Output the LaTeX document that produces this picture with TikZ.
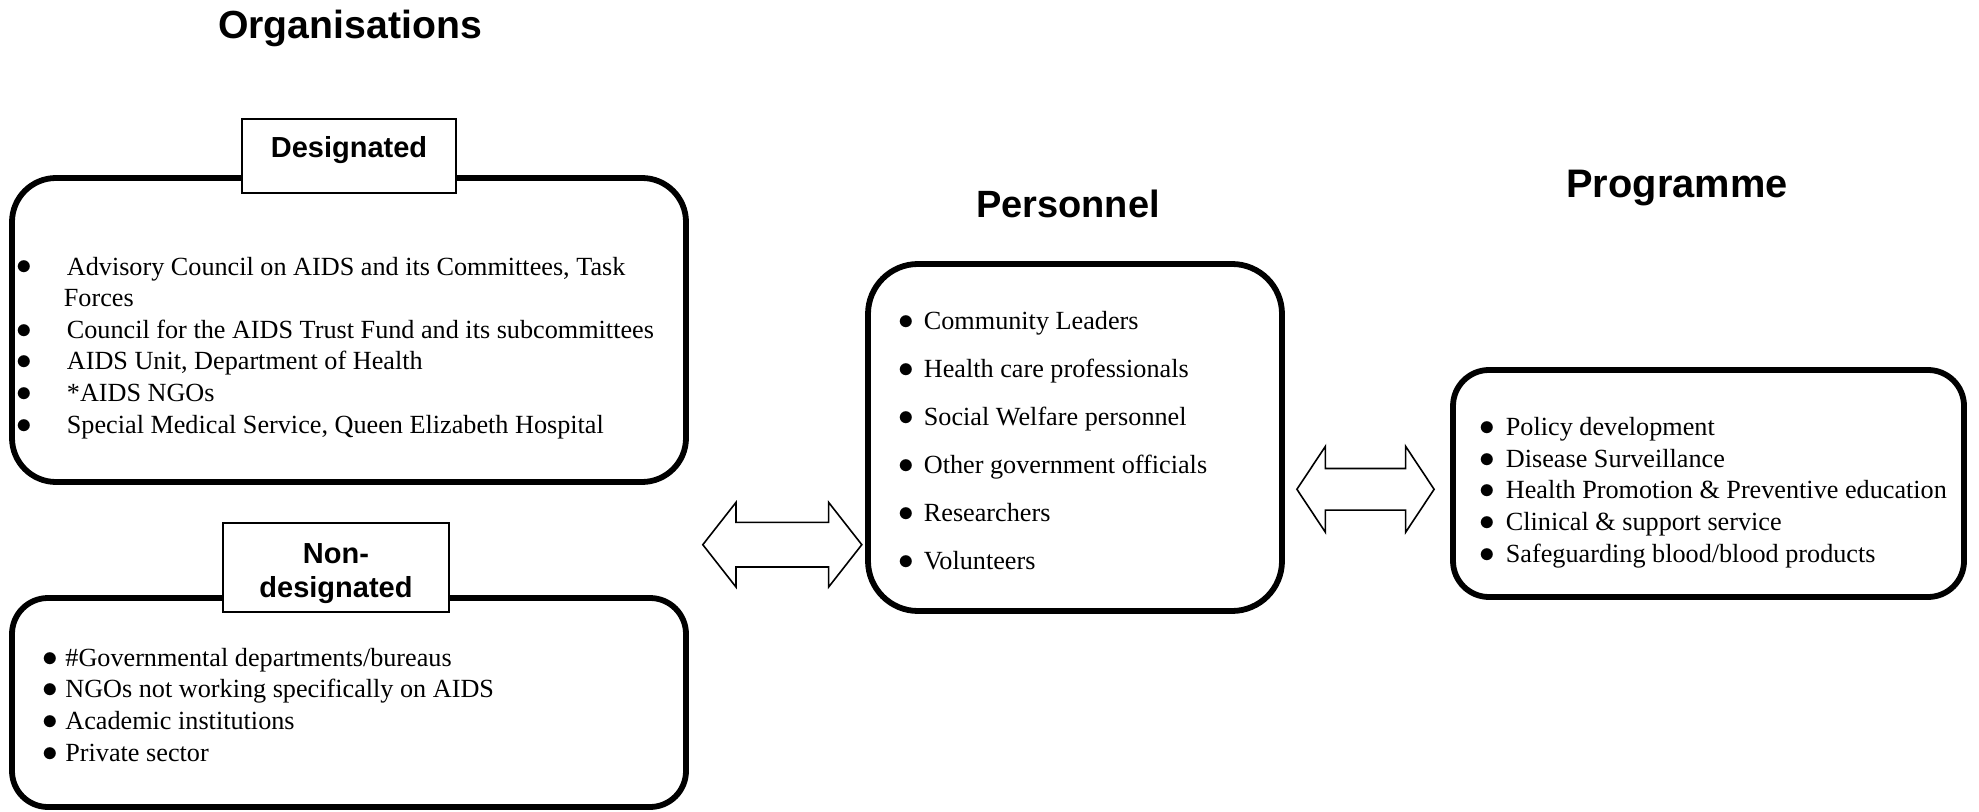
\documentclass[tikz,border=0pt]{standalone}
\usepackage{fontspec}
\usepackage{graphicx}
\setmainfont{Liberation Serif}
\newfontfamily\headfont{Liberation Sans}
\usetikzlibrary{shapes.arrows}

\newcommand{\bul}{\scalebox{1.3}{$\bullet$}}
\newcommand{\itm}[2]{\makebox[#1][l]{\bul}#2}

\tikzset{
  frame/.style={draw, line width=2.9pt, inner sep=0pt},
  tag/.style={draw, line width=0.8pt, fill=white, inner sep=0pt, align=center,
    font=\headfont\bfseries\fontsize{14.5}{17}\selectfont},
  heading/.style={anchor=base, inner sep=0pt,
    font=\headfont\bfseries\fontsize{19}{22}\selectfont},
  items/.style={anchor=base west, inner sep=0pt, align=left,
    font=\fontsize{13.1}{15.8}\selectfont},
  twoway/.style={double arrow, draw, line width=0.8pt, fill=white, inner xsep=0pt}
}

\begin{document}
\begin{tikzpicture}[x=0.5pt,y=-0.5pt]
\useasboundingbox (0,0) rectangle (1979,812);

% headings
\node[heading, font=\headfont\bfseries\fontsize{19.6}{22}\selectfont] (orgtitle) at (350,39) {Organisations};
\node[heading] (perstitle) at (1068,218) {Personnel};
\node[heading, font=\headfont\bfseries\fontsize{19.9}{22}\selectfont] (progtitle) at (1677,197.5) {Programme};

% frames
\node[frame, rounded corners=22pt, minimum width=337pt, minimum height=152pt] (desigbox) at (349,330) {};
\node[frame, rounded corners=18pt, minimum width=337pt, minimum height=104.5pt] (nondesbox) at (349,702.5) {};
\node[frame, rounded corners=25pt, minimum width=207pt, minimum height=173.5pt] (persbox) at (1075,437.5) {};
\node[frame, rounded corners=18pt, minimum width=255.5pt, minimum height=113.5pt] (progbox) at (1708.5,483.5) {};

% tags sitting on the frames
\node[tag, minimum width=107pt, text height=19.5pt, text depth=17.5pt] (desigtag) at (349,156) {Designated};
\node[tag, minimum width=113pt, text height=37pt, text depth=7.5pt] (nondestag) at (336,567.5) {Non-\\designated};

% lists
\node[items] (desiglist) at (16.5,433) {\itm{25pt}{Advisory Council on AIDS and its Committees, Task}\\
  \hspace*{23.5pt}Forces\\
  \itm{25pt}{Council for the AIDS Trust Fund and its subcommittees}\\
  \itm{25pt}{AIDS Unit, Department of Health}\\
  \itm{25pt}{*AIDS NGOs}\\
  \itm{25pt}{Special Medical Service, Queen Elizabeth Hospital}};
\node[items] (nondeslist) at (42.5,761) {\itm{11.25pt}{\#Governmental departments/bureaus}\\
  \itm{11.25pt}{NGOs not working specifically on AIDS}\\
  \itm{11.25pt}{Academic institutions}\\
  \itm{11.25pt}{Private sector}};
\node[items, font=\fontsize{13.1}{24}\selectfont] (perslist) at (898.5,569) {\itm{12.5pt}{Community Leaders}\\
  \itm{12.5pt}{Health care professionals}\\
  \itm{12.5pt}{Social Welfare personnel}\\
  \itm{12.5pt}{Other government officials}\\
  \itm{12.5pt}{Researchers}\\
  \itm{12.5pt}{Volunteers}};
\node[items] (proglist) at (1479.5,562) {\itm{13pt}{Policy development}\\
  \itm{13pt}{Disease Surveillance}\\
  \itm{13pt}{Health Promotion \& Preventive education}\\
  \itm{13pt}{Clinical \& support service}\\
  \itm{13pt}{Safeguarding blood/blood products}};

% two-way arrows
\node[twoway, minimum height=79.5pt, inner ysep=10.75pt, double arrow head extend=10pt,
  double arrow tip angle=103.8] (leftarrow) at (782.3,544.7) {};
\node[twoway, minimum height=68.6pt, inner ysep=10pt, double arrow head extend=11.1pt,
  double arrow tip angle=112.9] (rightarrow) at (1365.5,489.3) {};

\end{tikzpicture}
\end{document}
